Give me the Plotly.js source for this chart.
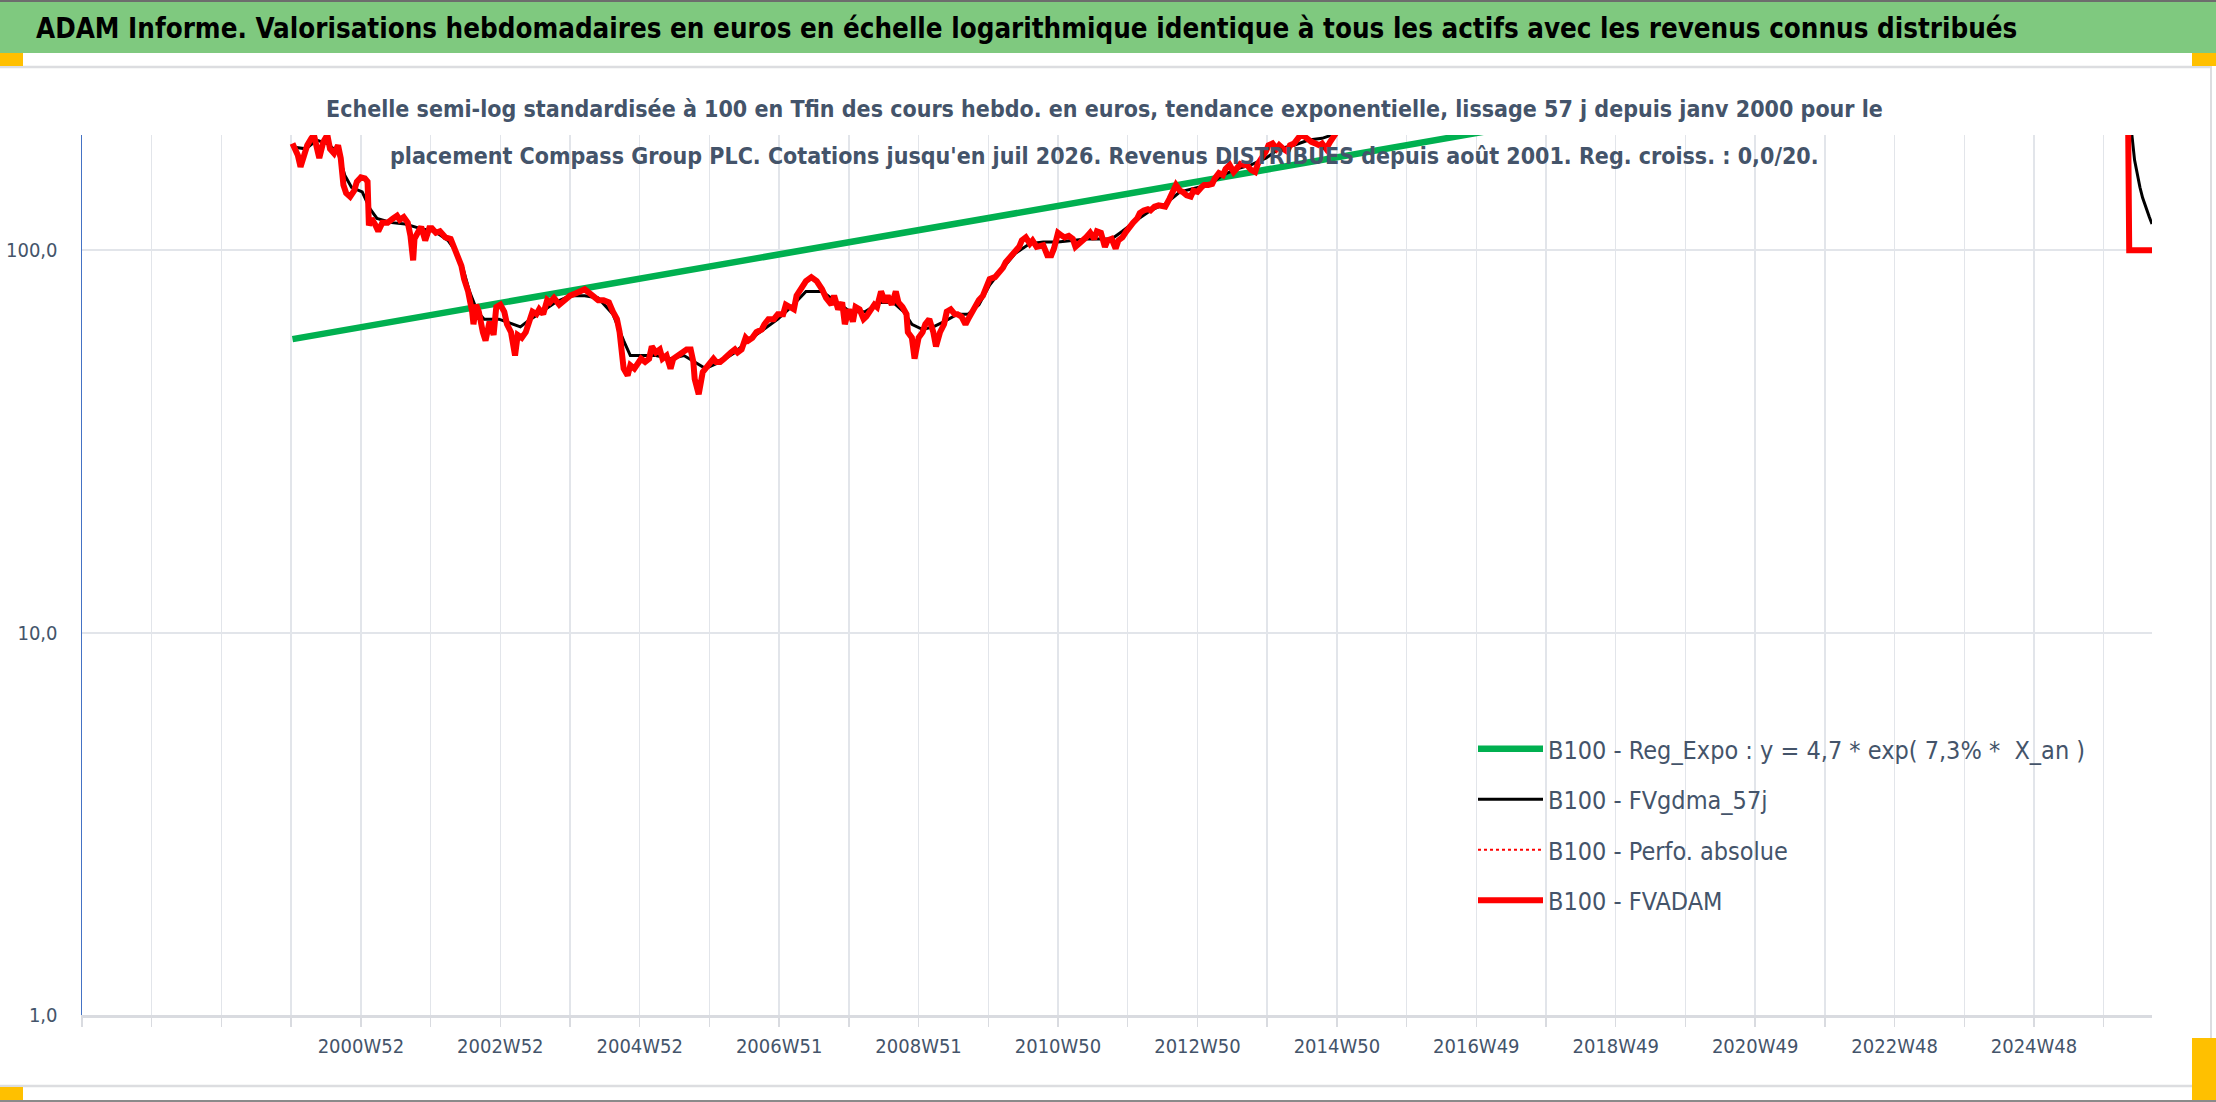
<!DOCTYPE html>
<html>
<head>
<meta charset="utf-8">
<script src="https://cdn.plot.ly/plotly-3.0.1.min.js"></script>
<style>html,body{margin:0;padding:0;background:#fff;}#chart{width:2216px;height:1102px;}</style>
</head>
<body>
<div id="chart"></div>
<script>
// ---- Data (x = week number counted from 1996-12-30, 52 weeks per gridline) ----
var redWeeks = [157,159,161,163,165,168,171,173,176,177,180,183,185,188,191,193,195,197,200,203,205,208,211,213,214,216,219,221,224,228,232,235,237,240,243,245,247,248,251,253,256,259,261,264,267,271,275,277,280,283,285,288,291,292,294,296,299,301,304,307,309,312,315,317,320,323,325,328,331,333,336,339,341,344,347,349,352,356,360,364,368,372,375,379,381,385,389,393,396,399,401,403,404,407,409,412,415,417,420,423,425,428,431,433,436,439,441,444,447,451,454,456,457,460,463,465,468,471,473,476,479,481,484,487,489,492,495,497,500,503,507,509,512,516,519,523,525,528,531,533,536,540,544,548,552,555,559,561,564,567,569,572,575,577,580,583,585,588,591,593,596,599,601,604,607,609,612,615,616,619,621,624,627,629,632,635,637,640,643,645,648,651,653,656,659,661,664,667,669,672,675,677,681,684,687,689,692,695,699,701,704,707,709,712,715,717,720,723,725,728,731,733,736,739,741,744,747,749,752,755,757,760,763,765,768,771,773,776,779,781,784,787,789,792,795,797,800,803,805,808,811,813,816,819,821,824,827,829,832,835,837,840,843,845,848,851,853,856,859,861,864,867,869,872,875,877,880,883,885,888,891,893,896,899,901,904,907,909,912,915,917,920,923,925,928,931,933,936,940,960,1000,1050,1100,1150,1200,1250,1300,1350,1400,1450,1500,1526,1527,1544];
var fvadam = [190,184,177,165,175,188,196,200,180,174,192,200,184,179,188,174,148,141,138,143,151,155,154,151,116,121,116,112,118,118,121,123,120,122,118,109,94,107,112,115,106,114,114,111,112,108,107,103,97,91,84,78,69,64,72,69,61,58,65,60,71,72,69,64,61,53,60,59,61,64,69,68,70,68,74,73,75,72,74,76,77,78,79,77,76,74,74,73,69,66,61,52,49,47,50,49,51,52,51,52,56,54,55,52,53,49,52,53,54,55,55,51,46,42,48,49,50,52,51,51,52,53,54,55,54,55,59,58,59,61,62,64,66,66,68,68,72,71,70,76,79,83,85,83,79,75,72,76,70,73,64,70,65,71,70,66,67,69,72,71,78,73,76,72,78,73,71,68,61,59,52,59,61,64,66,61,56,61,64,69,70,68,68,67,64,66,69,71,74,76,81,84,85,87,90,93,96,99,102,106,108,104,106,102,103,103,97,97,101,111,109,108,109,107,102,104,106,108,111,107,112,111,102,106,107,101,106,108,112,115,118,121,125,127,128,127,130,131,131,130,136,142,148,143,142,139,138,143,142,146,148,148,149,154,159,157,163,167,160,163,168,167,167,162,160,168,174,181,188,190,184,188,184,181,188,190,196,200,198,194,192,190,188,190,184,192,198,204,212,228,250,268,290,300,320,310,300,320,330,300,280,260,100,100];

var blackWeeks = [157,167,175,183,191,196,201,209,215,220,231,241,252,263,273,279,284,289,295,300,311,321,327,332,343,353,364,375,385,396,404,409,417,428,439,449,457,465,476,487,497,508,519,529,540,552,563,573,584,595,605,613,619,627,635,643,653,661,669,677,685,696,707,717,728,739,749,760,768,776,787,797,808,819,829,840,851,861,872,883,893,904,915,925,936,960,1000,1100,1200,1300,1400,1500,1527,1529,1531,1533,1535,1537,1540,1542,1544];
var fvgdma57 = [186,184,194,190,180,157,146,142,128,121,118,117,114,112,106,99,90,78,69,66,66,64,63,65,69,73,76,76,75,68,58,53,53,53,52,53,51,49,51,54,58,62,66,71,78,78,73,69,69,73,73,69,64,62,63,65,68,68,72,81,88,98,104,105,105,106,107,107,107,112,120,127,132,142,145,148,157,163,167,174,184,188,194,196,202,222,245,285,315,305,325,285,250,200,172,158,146,137,127,122,117];

var trendWeeks = [157,600,1032,1544];
var regExpo = [58.5,109,200,411];

var perfoWeeks = [157];
var perfoAbsolue = [190];

// ---- Axis labels ----
var gridWeeks = [0,52,104,156,208,260,312,364,416,468,520,572,624,676,728,780,832,884,936,988,1040,1092,1144,1196,1248,1300,1352,1404,1456,1508];
var weekLabels = ['','','','','2000W52','','2002W52','','2004W52','','2006W51','','2008W51','','2010W50','','2012W50','','2014W50','','2016W49','','2018W49','','2020W49','','2022W48','','2024W48',''];
var yTickVals = [1,10,100];
var yTickText = ['1,0','10,0','100,0'];

var seriesNames = ['B100 - Reg_Expo : y = 4,7 * exp( 7,3% *  X_an )','B100 - FVgdma_57j','B100 - Perfo. absolue','B100 - FVADAM'];
var mainTitle = 'ADAM Informe. Valorisations hebdomadaires en euros en échelle logarithmique identique à tous les actifs avec les revenus connus distribués';
var subTitle1 = 'Echelle semi-log standardisée à 100 en Tfin des cours hebdo. en euros, tendance exponentielle, lissage 57 j depuis janv 2000 pour le';
var subTitle2 = "placement Compass Group PLC. Cotations jusqu'en juil 2026. Revenus DISTRIBUES depuis août 2001. Reg. croiss. : 0,0/20.";

// ---- Layout helpers (pixel -> paper) ----
var W = 2216, H = 1102, L = 82, R = 64, T = 135, B = 87;
var PW = W - L - R, PH = H - T - B;
function px(x){ return (x - L) / PW; }
function py(y){ return (H - B - y) / PH; }
var FONT = "'Liberation Sans Narrow', 'DejaVu Sans Condensed', 'Arial Narrow', sans-serif";
var TXT = '#44546A';

function rect(x0,y0,x1,y1,color){
  return {type:'rect', xref:'paper', yref:'paper', x0:px(x0), x1:px(x1), y0:py(y1), y1:py(y0), fillcolor:color, line:{width:0}, layer:'below'};
}
function hline(x0,x1,y,color,w){
  return {type:'line', xref:'paper', yref:'paper', x0:px(x0), x1:px(x1), y0:py(y), y1:py(y), line:{color:color, width:w}, layer:'below'};
}
function vline(x,y0,y1,color,w){
  return {type:'line', xref:'paper', yref:'paper', x0:px(x), x1:px(x), y0:py(y0), y1:py(y1), line:{color:color, width:w}, layer:'below'};
}

var traces = [
  {x: trendWeeks, y: regExpo, name: seriesNames[0], mode:'lines', line:{color:'#00B050', width:6.5}, legendgroup:'g1'},
  {x: blackWeeks, y: fvgdma57, name: seriesNames[1], mode:'lines', line:{color:'#000000', width:3}, legendgroup:'g2'},
  {x: perfoWeeks, y: perfoAbsolue, name: seriesNames[2], mode:'lines', line:{color:'#FF0000', width:2, dash:'dot'}, legendgroup:'g3', showlegend:true},
  {x: redWeeks, y: fvadam, name: seriesNames[3], mode:'lines', line:{color:'#FF0000', width:6}, legendgroup:'g4'}
];

var layout = {
  width: W, height: H,
  margin: {l:L, r:R, t:T, b:B, pad:0},
  paper_bgcolor:'#ffffff', plot_bgcolor:'#ffffff',
  font: {family: FONT, color: TXT},
  showlegend: true,
  title: {text: mainTitle, xref:'container', yref:'container', x: 36/W, xanchor:'left', y: 1 - 28/H, yanchor:'middle',
          font:{family: FONT, size: 27.5, color:'#000000', weight:'bold'}},
  xaxis: {
    type:'linear', range:[0, 1544], tickmode:'array', tickvals: gridWeeks, ticktext: weekLabels,
    showgrid:true, gridcolor:'#e2e5ea', gridwidth:1.5, zeroline:false,
    showline:true, linecolor:'#d9dbe0', linewidth:3,
    ticks:'outside', ticklen:9, tickcolor:'#d9dbe0', tickwidth:1.5,
    ticklabelstandoff: 2,
    tickfont:{family: FONT, size:20, color: TXT}, fixedrange:true
  },
  yaxis: {
    type:'log', range:[0, Math.log10(200)], tickmode:'array', tickvals: yTickVals, ticktext: yTickText,
    showgrid:true, gridcolor:'#e2e5ea', gridwidth:2, zeroline:false,
    showline:true, linecolor:'#4472C4', linewidth:1.5, ticks:'', ticklabelstandoff: 19,
    tickfont:{family: FONT, size:20, color: TXT}, fixedrange:true
  },
  legend: {x: px(1473), xanchor:'left', y: py(726), yanchor:'top', bgcolor:'rgba(0,0,0,0)',
           font:{family: FONT, size:25, color: TXT}, tracegroupgap: 15, itemwidth: 65, traceorder:'grouped'},
  annotations: [
    {text: subTitle1, xref:'paper', yref:'paper', x: px(1104), y: py(109), xanchor:'center', yanchor:'middle', showarrow:false,
     font:{family: FONT, size:23, color: TXT, weight:'bold'}},
    {text: subTitle2, xref:'paper', yref:'paper', x: px(1104), y: py(156), xanchor:'center', yanchor:'middle', showarrow:false,
     font:{family: FONT, size:23, color: TXT, weight:'bold'}}
  ],
  shapes: [
    rect(0,0,W,53,'#7FC97F'),
    rect(0,0,W,2,'#6d6d6d'),
    hline(0,2212,67,'#dcdde0',2.5),
    vline(2211,67,1086,'#dcdde0',2),
    hline(0,2212,1086,'#dcdde0',2.5),
    hline(0,W,1101,'#8a8a8a',2),
    rect(0,53,23,66,'#FFC000'),
    rect(2192,53,W,66,'#FFC000'),
    rect(0,1087,23,1100,'#FFC000'),
    rect(2192,1038,W,1100,'#FFC000')
  ]
};

Plotly.newPlot('chart', traces, layout, {staticPlot:true, displayModeBar:false});
</script>
</body>
</html>
